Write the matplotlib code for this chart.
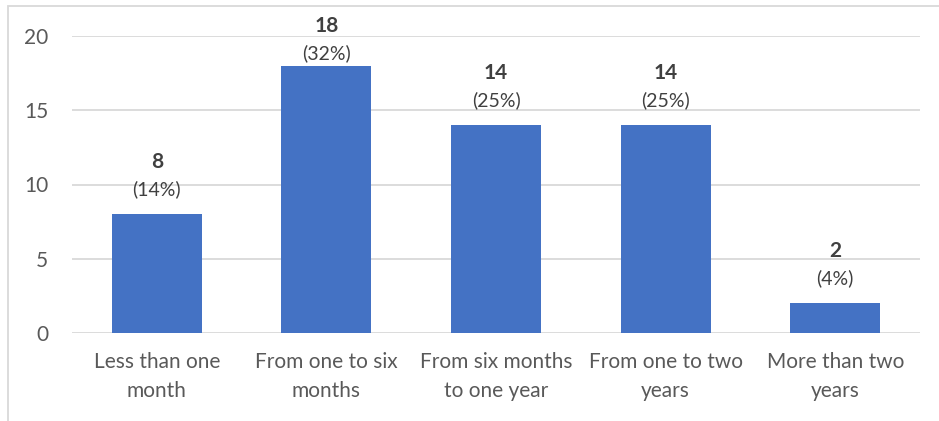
import matplotlib
matplotlib.use("Agg")
import matplotlib.pyplot as plt
from matplotlib.patches import Rectangle

categories = ["Less than one\nmonth", "From one to six\nmonths", "From six months\nto one year",
              "From one to two\nyears", "More than two\nyears"]
counts = [8, 18, 14, 14, 2]
yticks = [0, 5, 10, 15, 20]

plt.rcParams["font.family"] = ["Lato", "DejaVu Sans"]

W, H = 939, 421
DPI = 100
fig = plt.figure(figsize=(W / DPI, H / DPI), dpi=DPI)
ax = fig.add_axes([72 / W, (H - 333) / H, (920 - 72) / W, (333 - 36) / H])

total = sum(counts)
x = range(len(counts))
ax.bar(x, counts, width=0.53, color="#4472C4", zorder=3)

ax.set_xlim(-0.5, len(counts) - 0.5)
ax.set_ylim(0, 20)

# Data labels sit above each bar, pushed down when they would leave the chart frame
num_gap, pct_gap, top_limit = 52, 25, H - 26
for i, v in enumerate(counts):
    pct = round(100 * v / total)
    bar_top = ax.transData.transform((i, v))[1]
    num_px = min(bar_top + num_gap, top_limit)
    pct_px = num_px - (num_gap - pct_gap)
    ax.annotate(f"({pct}%)", (i, v), xytext=(0, (pct_px - bar_top) * 72 / DPI),
                textcoords="offset points", ha="center", va="center",
                fontsize=14, color="#404040")
    ax.annotate(f"{v}", (i, v), xytext=(0, (num_px - bar_top) * 72 / DPI),
                textcoords="offset points", ha="center", va="center",
                fontsize=15, fontweight="bold", color="#404040")

ax.set_yticks(yticks)
ax.yaxis.grid(True, color="#D9D9D9", linewidth=1.3, zorder=0)
ax.set_axisbelow(True)
for s in ax.spines.values():
    s.set_visible(False)
ax.tick_params(axis="both", length=0, labelsize=15, labelcolor="#595959")
ax.tick_params(axis="y", pad=17)
ax.tick_params(axis="x", pad=14)
ax.set_xticks(list(x))
ax.set_xticklabels(categories, linespacing=1.55)

fig.patches.append(Rectangle((8 / W, -0.1), 1.2, (H - 6) / H + 0.1, transform=fig.transFigure,
                             fill=False, edgecolor="#D9D9D9", linewidth=1.3))

fig.savefig("out.png", dpi=DPI)
